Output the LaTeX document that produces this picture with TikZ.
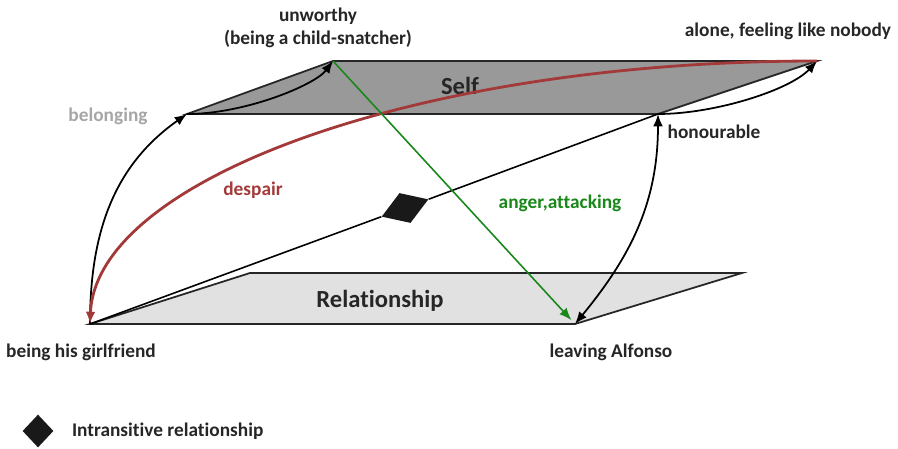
\documentclass[tikz,border=0pt]{standalone}
\usepackage{fontspec}
\setmainfont{Carlito}[Ligatures=NoCommon]
\usetikzlibrary{arrows.meta}
\usetikzlibrary{shapes.geometric}
\usetikzlibrary{positioning}
\definecolor{despred}{RGB}{163,58,58}
\definecolor{angergreen}{RGB}{25,135,25}
\definecolor{selfgray}{RGB}{153,153,153}
\definecolor{relgray}{RGB}{225,225,225}
\tikzset{>={Latex[length=7pt,width=5.5pt]}}
\tikzset{
  lbl/.style={font=\bfseries\fontsize{11}{13}\selectfont, text=black!85},
  plane/.style={font=\bfseries\fontsize{14}{16}\selectfont, text=black!85},
  edge/.style={draw=black!85, line width=1pt},
  move/.style={->, line width=1pt},
  intr/.style={diamond, fill=black!90, inner sep=0pt}
}

\begin{document}
\begin{tikzpicture}[x=0.02cm, y=-0.02cm]
  \useasboundingbox (0,0) rectangle (898,449);
  % corners
  \coordinate (girl) at (90,324);
  \coordinate (leave) at (575,324);
  \coordinate (reltl) at (250,273);
  \coordinate (reltr) at (742,273);
  \coordinate (belong) at (187,114);
  \coordinate (unworthy) at (333,61);
  \coordinate (alone) at (817,61);
  \coordinate (honour) at (658,114);
  % planes
  \filldraw [edge, fill=relgray] (girl) -- (reltl) -- (reltr) -- (leave) -- cycle;
  \filldraw [edge, fill=selfgray] (belong) -- (unworthy) -- (alone) -- (honour) -- cycle;
  \node [plane] (self) at (460,86) {Self};
  \node [plane] (rel) at (380,301) {Relationship};
  % intransitive link
  \node [intr, minimum width=1cm, minimum height=0.64cm, rotate=20.3] (mid) at (405,208) {};
  \draw [line width=0.9pt] (girl) -- (mid) -- (honour);
  % moves
  \draw [move] (girl) .. controls (90,234) and (113,166) .. (belong);
  \draw [move] (belong) .. controls (245,114) and (315,85) .. (unworthy);
  \draw [move] (honour) .. controls (715,114) and (790,90) .. (alone);
  \draw [move, <->] (leave) .. controls (631,256) and (658,202) .. (honour);
  \draw [->, despred, line width=1.6pt] (alone) .. controls (416,61) and (96,180) .. (girl);
  \draw [->, angergreen, line width=0.9pt, shorten >=3pt] (unworthy) -- (leave);
  % labels
  \node [lbl, align=center] (unw) at (318,28) {unworthy\\(being a child-snatcher)};
  \node [lbl] (alo) at (788,31) {alone, feeling like nobody};
  \node [lbl, text=black!35] (bel) at (108,116) {belonging};
  \node [lbl] (hon) at (714,132) {honourable};
  \node [lbl, text=despred] (desp) at (253,190) {despair};
  \node [lbl, text=angergreen] (ang) at (560,203) {anger,attacking};
  \node [lbl] (gf) at (81,352) {being his girlfriend};
  \node [lbl] (alf) at (611,352) {leaving Alfonso};
  % key
  \node [intr, minimum width=0.62cm, minimum height=0.66cm] (key) at (38,431) {};
  \node [lbl, right=0.24cm of key] (keytxt) {Intransitive relationship};
\end{tikzpicture}
\end{document}
